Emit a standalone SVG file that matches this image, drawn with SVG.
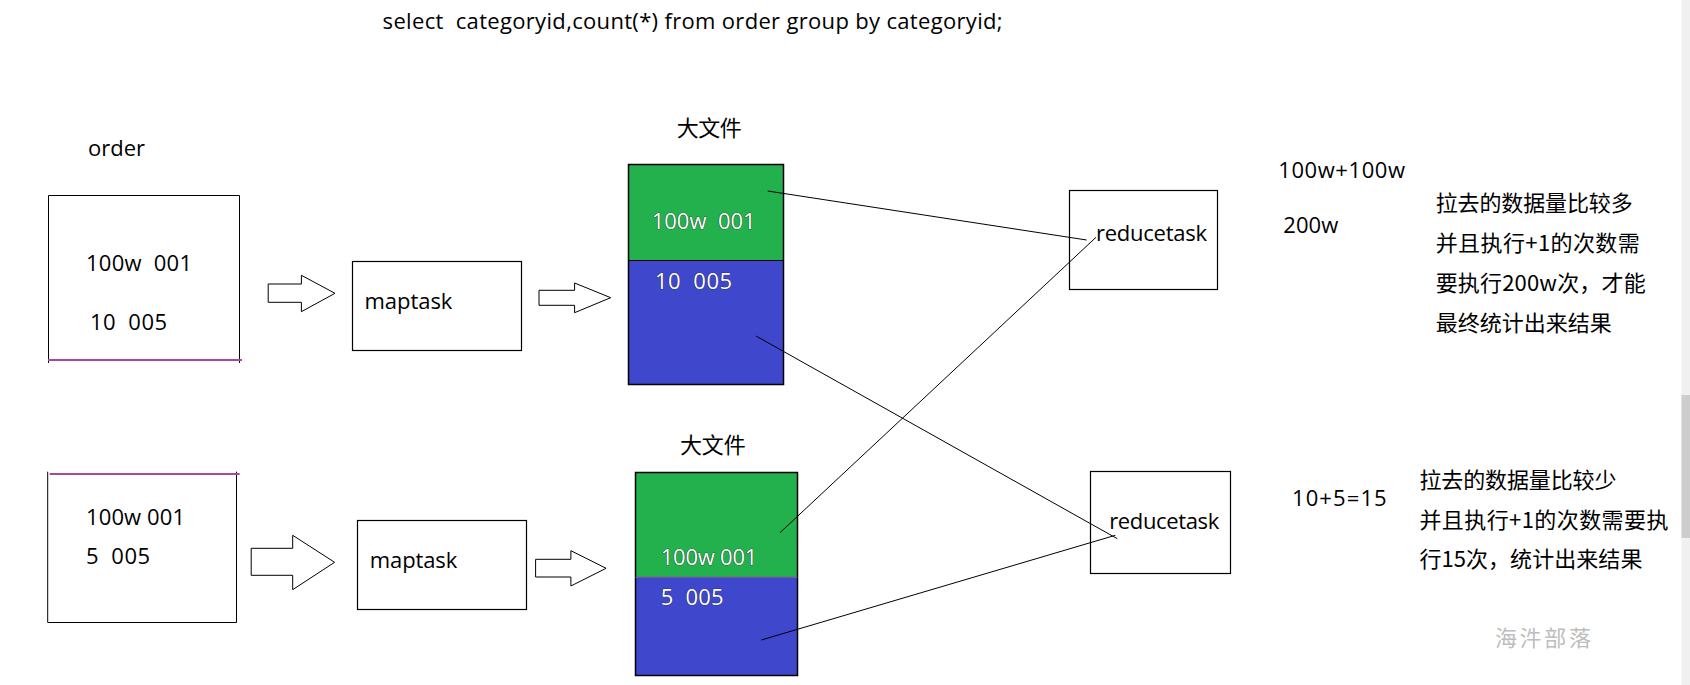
<svg xmlns="http://www.w3.org/2000/svg" width="1690" height="685" viewBox="0 0 1690 685" xml:space="preserve">
<defs>
<style>
text{white-space:pre}
.t{font-family:"Open Sans","Noto Sans","Noto Sans CJK SC",sans-serif;font-size:22px;fill:#000}
.c{font-family:"Noto Sans CJK SC","Noto Sans",sans-serif;font-size:22px;fill:#000}
.w{font-family:"Open Sans","Noto Sans",sans-serif;font-size:22px;fill:#fff;stroke:#1a1a1a;stroke-width:0.7px;paint-order:stroke}
.box{fill:#fff;stroke:#000;stroke-width:1.2}
.arr{fill:#fff;stroke:#000;stroke-width:1}
.edge{stroke:#000;stroke-width:1;fill:none}
.mag{stroke:#a349a4;stroke-width:2}
</style>
</defs>
<rect width="1690" height="685" fill="#fff"/>
<rect x="1681.5" y="0" width="8.5" height="685" fill="#f0f0f0"/>
<rect x="1681.5" y="395" width="8.5" height="143" fill="#cdcdcd"/>

<text class="t" x="382.6" y="29" font-size="20" textLength="620">select  categoryid,count(*) from order group by categoryid;</text>

<g id="order1">
<text class="t" x="88" y="156" font-size="21.5">order</text>
<path d="M48.5 363V195.5H239.5V363" class="edge" stroke-width="1.2"/>
<line x1="48" y1="360" x2="242" y2="360" class="mag"/>
<text class="t" x="86" y="271" textLength="106">100w  001</text>
<text class="t" x="90" y="330" textLength="77">10  005</text>
</g>

<g id="order2">
<path d="M47.7 471.7V622.5H236.5V471.7" class="edge" stroke-width="1.2"/>
<line x1="49.7" y1="474" x2="239.6" y2="474" class="mag"/>
<text class="t" x="86" y="525" textLength="99">100w 001</text>
<text class="t" x="86" y="564.3" textLength="64">5  005</text>
</g>

<g id="arrow1"><polygon class="arr" points="268.2,284 301.4,284 301.4,275.3 335,293.3 301.4,311.7 301.4,302.3 268.2,302.3"/></g>
<g id="arrow2"><polygon class="arr" points="539,290.3 574.6,290.3 574.6,283 610.7,297.7 574.6,312.7 574.6,305.3 539,305.3"/></g>
<g id="arrow3"><polygon class="arr" points="251.2,548.3 292.7,548.3 292.7,535.3 334.6,562.3 292.7,589.7 292.7,575.3 251.2,575.3"/></g>
<g id="arrow4"><polygon class="arr" points="535.6,559.3 570.9,559.3 570.9,550.7 606.1,568.3 570.9,586 570.9,577 535.6,577"/></g>

<g id="maptask1">
<rect class="box" x="352.5" y="261.5" width="169" height="89"/>
<text class="t" x="364.4" y="309.3" textLength="88">maptask</text>
</g>
<g id="maptask2">
<rect class="box" x="357.5" y="520.5" width="169" height="89"/>
<text class="t" x="369.8" y="567.7" textLength="87.5">maptask</text>
</g>

<g id="file1">
<text class="c" x="676.7" y="135.7" textLength="65">大文件</text>
<rect x="628.5" y="164.5" width="155" height="96" fill="#22b14c"/>
<rect x="628.5" y="260.5" width="155" height="124" fill="#3f48cc"/>
<rect x="628.5" y="164.5" width="155" height="220" fill="none" stroke="#000" stroke-width="1.5"/>
<line x1="628.5" y1="260.5" x2="783.5" y2="260.5" stroke="#000" stroke-width="1.2"/>
<text class="w" x="651.7" y="229.3" textLength="104">100w  001</text>
<text class="w" x="655" y="288.7" textLength="77">10  005</text>
</g>

<g id="file2">
<text class="c" x="680" y="452.7" textLength="65.7">大文件</text>
<rect x="635.5" y="472.5" width="162" height="105" fill="#22b14c"/>
<rect x="635.5" y="577.5" width="162" height="98" fill="#3f48cc"/>
<rect x="635.5" y="472.5" width="162" height="203" fill="none" stroke="#000" stroke-width="1.5"/>
<line x1="635.5" y1="577.3" x2="797.5" y2="577.3" stroke="#7a4fa0" stroke-width="1.2"/>
<text class="w" x="660.7" y="565" textLength="96.7">100w 001</text>
<text class="w" x="660.7" y="605" textLength="63">5  005</text>
</g>

<g id="reducetask1">
<rect class="box" x="1069.5" y="190.5" width="148" height="99"/>
<text class="t" x="1096" y="241" textLength="111">reducetask</text>
</g>
<g id="reducetask2">
<rect class="box" x="1090.5" y="471.5" width="140" height="102"/>
<text class="t" x="1109.2" y="529.3" textLength="110">reducetask</text>
</g>

<g id="connectors">
<line class="edge" x1="767.7" y1="191" x2="1086.7" y2="240"/>
<line class="edge" x1="756" y1="336" x2="1117.3" y2="538.7"/>
<line class="edge" x1="780" y1="532.7" x2="1096" y2="237.3"/>
<line class="edge" x1="761.3" y1="640" x2="1115.3" y2="535.3"/>
</g>

<g id="note1">
<text class="t" x="1278.3" y="178" textLength="126.7">100w+100w</text>
<text class="t" x="1283.3" y="232.5" textLength="55">200w</text>
<text class="c" x="1435.7" y="211" textLength="197">拉去的数据量比较多</text>
<text class="c" x="1435.7" y="251" textLength="204">并且执行+1的次数需</text>
<text class="c" x="1435.7" y="291" textLength="210">要执行200w次，才能</text>
<text class="c" x="1435.7" y="330.5" textLength="176">最终统计出来结果</text>
</g>

<g id="note2">
<text class="t" x="1292" y="505.7" textLength="94.7">10+5=15</text>
<text class="c" x="1419.4" y="488" textLength="197">拉去的数据量比较少</text>
<text class="c" x="1419.4" y="528" textLength="249">并且执行+1的次数需要执</text>
<text class="c" x="1419.4" y="567" textLength="223">行15次，统计出来结果</text>
</g>

<text class="c" x="1494.9" y="646" font-size="24" style="fill:#bdbdbd" textLength="96">海汼部落</text>
</svg>
